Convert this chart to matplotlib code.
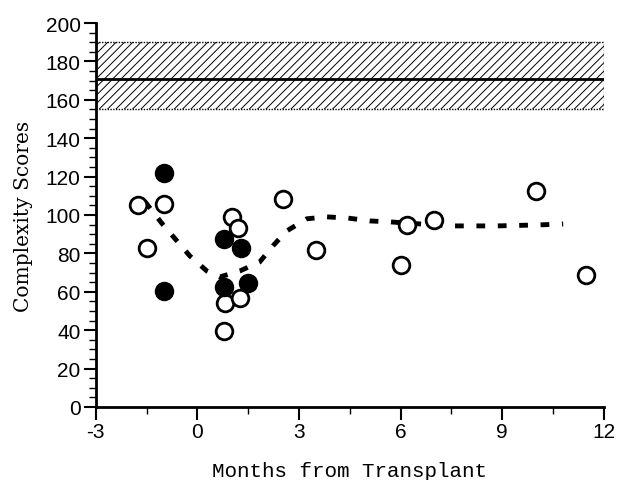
import matplotlib
matplotlib.use("Agg")
import matplotlib.pyplot as plt
from matplotlib.ticker import MultipleLocator

# open circles
open_x = [-1.76, -1.49, -0.99, 0.81, 0.78, 1.02, 1.19, 1.25, 2.52, 3.5, 6.0, 6.18, 7.0, 10.0, 11.47]
open_y = [105, 83, 105.7, 54, 39.6, 99, 93, 56.8, 108.5, 82, 74, 95, 97.5, 112.5, 68.7]

# filled circles
filled_x = [-0.99, -1.0, 0.78, 0.78, 1.28, 1.49]
filled_y = [122, 60.4, 87.5, 62.5, 82.8, 64.6]

# dashed trend
trend_x = [-1.55, -1.02, -0.58, -0.22, 0.28, 0.66, 1.25, 1.84, 2.23, 2.64, 3.23, 3.82,
           4.44, 5.09, 5.68, 6.6, 7.54, 8.84, 10.05, 10.8]
trend_y = [107, 95, 86, 78.6, 70.8, 67.7, 70.8, 75.5, 83.9, 91.7, 98, 99,
           98.4, 96.9, 96.4, 95.3, 94.3, 94.3, 94.8, 95.3]

# normal range band
band_low, band_high, band_mean = 155, 190, 171

plt.rcParams['hatch.linewidth'] = 0.7
plt.rcParams['axes.unicode_minus'] = False

fig = plt.figure(figsize=(6.18, 4.81), dpi=100)
ax = fig.add_axes([0.155, 0.152, 0.822, 0.798])

ax.fill_between([-3, 12], band_low, band_high, facecolor='white', edgecolor='black',
                hatch='////', linewidth=0)
ax.plot([-3, 12], [band_low, band_low], color='black', lw=1, ls=(0, (1, 1)))
ax.plot([-3, 12], [band_high, band_high], color='black', lw=1, ls=(0, (1, 1)))
ax.plot([12, 12], [band_low, band_high], color='black', lw=1, ls=(0, (1, 1)))
ax.axhline(band_mean, color='black', lw=2)

ax.plot(trend_x, trend_y, color='black', lw=3.5, ls=(0, (1.8, 2.6)), zorder=2)

ax.plot(open_x, open_y, 'o', ms=12, mfc='white', mec='black', mew=2, zorder=3)
ax.plot(filled_x, filled_y, 'o', ms=12, mfc='black', mec='black', mew=2, zorder=4)

ax.set_xlim(-3, 12)
ax.set_ylim(0, 200)
ax.spines['top'].set_visible(False)
ax.spines['right'].set_visible(False)
ax.spines['left'].set_linewidth(2)
ax.spines['bottom'].set_linewidth(2)

ax.xaxis.set_major_locator(MultipleLocator(3))
ax.xaxis.set_minor_locator(MultipleLocator(1.5))
ax.yaxis.set_major_locator(MultipleLocator(20))
ax.yaxis.set_minor_locator(MultipleLocator(5))
ax.tick_params(which='major', length=9, width=1.5, labelsize=15, pad=2)
ax.tick_params(which='minor', length=5, width=1)
for lab in ax.get_xticklabels() + ax.get_yticklabels():
    lab.set_fontfamily('Liberation Sans')

ax.set_xlabel('Months from Transplant', fontsize=15, family='Liberation Mono', labelpad=14)
ax.set_ylabel('Complexity Scores', fontsize=14.5, family='DejaVu Serif', labelpad=9)

fig.savefig('out.png', dpi=100)
